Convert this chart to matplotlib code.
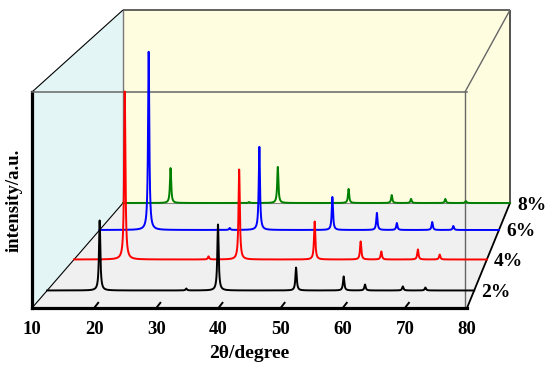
import numpy as np
import matplotlib
matplotlib.use("Agg")
import matplotlib.pyplot as plt
from matplotlib.patches import Polygon

# ---------------- data ----------------
peak_pos = [18.6, 32.8, 38.0, 50.8, 58.6, 62.1, 68.3, 72.0]   # 2theta, degree
labels = ["2%", "4%", "6%", "8%"]
colors = ["black", "red", "blue", "green"]
int_2 = [33.0, 0.9, 31.1, 10.8, 6.6, 2.8, 1.9, 1.4]
int_4 = [81.8, 1.5, 43.8, 18.5, 8.8, 3.9, 4.9, 2.4]
int_6 = [89.6, 1.0, 41.8, 16.6, 8.6, 3.5, 4.0, 2.0]
int_8 = [18.1, 0.5, 18.7, 7.3, 4.1, 2.1, 2.1, 1.0]
intensities = [int_2, int_4, int_6, int_8]
xticks = [10, 20, 30, 40, 50, 60, 70, 80]

# ---------------- layout (pixels) ----------------
W, H = 550, 368
depths = [0.167, 0.462, 0.743, 1.0]
FL, FR, FB, FT = 32, 467, 308, 92        # front box
BL, BR, BB, BT = 123, 510, 203, 10       # back box

plt.rcParams['font.family'] = ['Liberation Serif', 'DejaVu Serif']
plt.rcParams['font.weight'] = 'bold'

fig = plt.figure(figsize=(W / 100, H / 100), dpi=100)

bg = fig.add_axes([0, 0, 1, 1], zorder=0)
bg.set_xlim(0, W)
bg.set_ylim(H, 0)
bg.axis("off")

bg.add_patch(Polygon([(FL, FT), (BL, BT), (BL, BB), (FL, FB)], closed=True,
                     facecolor="#e3f5f5", edgecolor="none"))
bg.add_patch(Polygon([(BL, BT), (BR, BT), (BR, BB), (BL, BB)], closed=True,
                     facecolor="#fffde0", edgecolor="none"))
bg.add_patch(Polygon([(FL, FB), (FR, FB), (BR, BB), (BL, BB)], closed=True,
                     facecolor="#f0f0f0", edgecolor="none"))

def seg(p, q, c, lw):
    bg.plot([p[0], q[0]], [p[1], q[1]], color=c, lw=lw, solid_capstyle="butt")

seg((BL, BT), (BR, BT), "#555555", 1.3)
seg((BL, BT), (BL, BB), "#777777", 1.0)
seg((BR, BT), (BR, BB), "#444444", 1.3)
seg((FR - 2, FT), (BR, BT), "#666666", 1.0)
seg((BL, BB), (BR, BB), "#888888", 0.8)
seg((FL, FT), (BL, BT), "black", 0.8)
seg((FL, FB), (BL, BB), "black", 0.8)
seg((FR, FB), (BR, BB), "black", 1.3)

# ---------------- front axes ----------------
front = fig.add_axes([FL / W, (H - FB) / H, (FR - FL) / W, (FB - FT) / H], zorder=1)
front.patch.set_alpha(0)
front.set_xlim(10, 80)
front.set_ylim(0, 100)
for s in ["left", "bottom"]:
    front.spines[s].set_linewidth(2.3)
    front.spines[s].set_color("black")
front.spines["top"].set_color("#666666")
front.spines["top"].set_linewidth(1.1)
front.spines["right"].set_color("#666666")
front.spines["right"].set_linewidth(1.0)
front.spines["right"].set_position(("data", 79.7))
front.set_xticks(xticks)
front.set_xticklabels([str(t) for t in xticks], fontsize=13.5, fontweight="bold")
front.tick_params(axis="x", length=0, pad=9.5)
front.set_yticks([])
front.set_ylabel("intensity/a.u.", fontsize=13.5, fontweight="bold", labelpad=7)
front.set_xlabel("2θ/degree", fontsize=14, fontweight="bold", labelpad=5)
for t in xticks[1:-1]:
    front.plot([t, t + 0.65], [0, 2.4], color="black", lw=1.4, clip_on=False)

# ---------------- series ----------------
x = np.linspace(10, 80, 7001)
g = 0.13
for k, (d, ints, col, lab) in enumerate(zip(depths, intensities, colors, labels)):
    left = FL + (BL - FL) * d
    right = FR + (BR - FR) * d
    base = FB - (FB - BB) * d
    height = (FB - FT) - ((FB - FT) - (BB - BT)) * d
    ax = fig.add_axes([left / W, (H - base) / H, (right - left) / W, height / H],
                      zorder=2 + (len(depths) - k))
    ax.set_xlim(10, 80)
    ax.set_ylim(0, 100)
    ax.axis("off")
    ax.patch.set_alpha(0)
    y = np.zeros_like(x)
    for p, a in zip(peak_pos, ints):
        y += a * g**2 / ((x - p) ** 2 + g**2)
    ax.plot(x, y, color=col, lw=1.4, clip_on=False)
    ax.annotate(lab, xy=(1, 0), xycoords="axes fraction", xytext=(7, -2),
                textcoords="offset pixels", ha="left", va="center",
                fontsize=14, fontweight="bold", annotation_clip=False)

fig.savefig("out.png", dpi=100)
